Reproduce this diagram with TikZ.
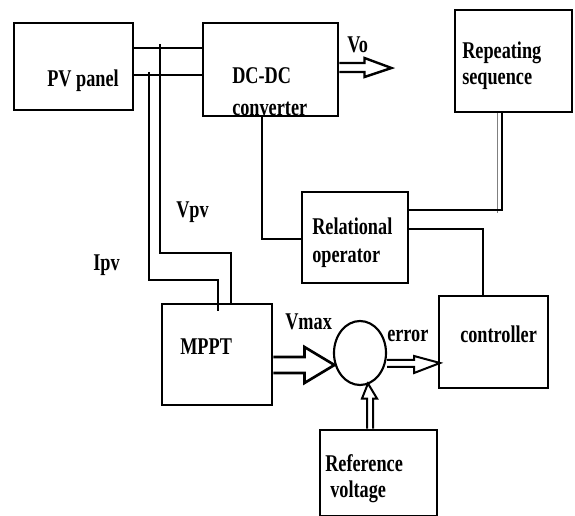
\documentclass[tikz,border=0pt]{standalone}
\usepackage{fontspec}
\setmainfont{Liberation Serif}[FakeStretch=0.76]
\usetikzlibrary{fit,calc,shapes.geometric}
\begin{document}
\begin{tikzpicture}[x=0.75pt,y=-0.75pt,
  box/.style={draw,line width=2.2pt,rectangle,inner sep=0pt},
  conn/.style={line width=2pt},
  hollow/.style={draw,line width=1.5pt,line join=miter},
  lbl/.style={anchor=base west,inner sep=0pt,font=\fontsize{18pt}{20pt}\selectfont\bfseries}]
\useasboundingbox (0,0) rectangle (575,516);
% boxes
\node[box,fit={(14,23) (133,110)}] (pv) {};
\node[box,fit={(203,23) (338,116)}] (dc) {};
\node[box,fit={(455,10) (572,112)}] (rep) {};
\node[box,fit={(302,192) (408,283)}] (rel) {};
\node[box,fit={(162,304) (272,405)}] (mppt) {};
\node[box,fit={(439,296) (548,388)}] (ctrl) {};
\node[box,fit={(320,430) (437,516)}] (ref) {};
\node[draw,ellipse,line width=1.6pt,inner sep=0pt,minimum width=39pt,minimum height=48pt] (sum) at (360,353) {};
% labels
\node[lbl] at (47,87) {PV panel};
\node[lbl] at (232,84) {DC-DC};
\node[lbl] at (232,116) {converter};
\node[lbl] at (347,53) {Vo};
\node[lbl] at (462,59) {Repeating};
\node[lbl] at (462,85) {sequence};
\node[lbl] at (312,235) {Relational};
\node[lbl] at (312,263) {operator};
\node[lbl] at (176,218) {Vpv};
\node[lbl] at (93,271) {Ipv};
\node[lbl] at (285,330) {Vmax};
\node[lbl] at (180,355) {MPPT};
\node[lbl] at (387,342) {error};
\node[lbl] at (460,343) {controller};
\node[lbl] at (325,472) {Reference};
\node[lbl] at (330,498) {voltage};
% coordinates
\coordinate (ya) at (0,48);
\coordinate (yb) at (0,75);
\coordinate (vtop) at (160,44);
\coordinate (vbend) at (160,253);
\coordinate (vdrop) at (231,253);
\coordinate (itop) at (149,72);
\coordinate (ibend) at (149,280);
\coordinate (idrop) at (218,280);
\coordinate (dcd) at (262,239);
\coordinate (rpd) at (502,210);
\coordinate (rcd) at (483,229);
% connectors
\draw[conn] (pv.east |- ya) -- (dc.west |- ya);
\draw[conn] (pv.east |- yb) -- (dc.west |- yb);
\draw[conn] (vtop) -- (vbend) -- (vdrop) -- (vdrop |- mppt.north);
\draw[conn] (itop) -- (ibend) -- (idrop) -- ([yshift=-6]idrop |- mppt.north);
\draw[conn] (dcd |- dc.south) -- (dcd) -- (rel.west |- dcd);
\draw[line width=0.8pt,gray] ([xshift=-3.5]rpd |- rep.south) -- ([xshift=-3.5,yshift=-2]rpd);
\draw[conn] (rpd |- rep.south) -- (rpd) -- (rel.east |- rpd);
\draw[conn] (rel.east |- rcd) -- (rcd) -- (rcd |- ctrl.north);
% hollow arrows
\draw[hollow,line width=2pt] ($(mppt.east)+(0,2.5)$) -- ++(31,0) -- ++(0,-10) -- ++(30,18) -- ++(-30,18) -- ++(0,-10) -- ++(-31,0);
\draw[hollow] ($(sum.east)+(0,7)$) -- ++(27,0) -- ++(0,-4) -- ++(26,7) -- ++(-26,10) -- ++(0,-6) -- ++(-27,0);
\draw[hollow] ($(ref.north)+(-11.5,0)$) -- ++(0,-30) -- ++(-5,0) -- ++(6,-15) -- ++(9,15) -- ++(-4,0) -- ++(0,30);
\draw[hollow,line width=1.8pt] ($(dc.east)+(0,-6.5)$) -- ++(25,0) -- ++(0,-5) -- ++(27,10) -- ++(-27,9) -- ++(0,-5) -- ++(-25,0);
\end{tikzpicture}
\end{document}
